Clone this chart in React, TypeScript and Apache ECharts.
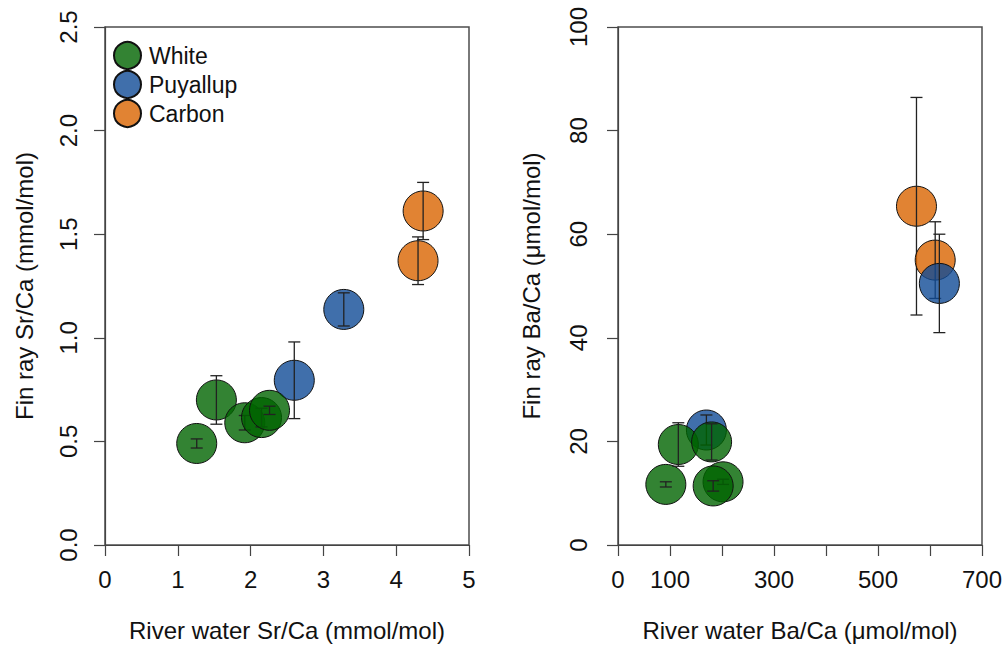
import React, { useEffect, useRef } from "react";
import * as echarts from "echarts";

// ---- Data: left panel (Sr/Ca, mmol/mol) ----
const srWhiteX = [1.26, 1.53, 1.92, 2.15, 2.26];
const srWhiteY = [0.49, 0.70, 0.59, 0.615, 0.65];
const srWhiteErr = [0.022, 0.117, 0.035, 0.045, 0.02];
const srPuyX = [2.6, 3.28];
const srPuyY = [0.795, 1.137];
const srPuyErr = [0.185, 0.08];
const srCarX = [4.3, 4.37];
const srCarY = [1.372, 1.612];
const srCarErr = [0.115, 0.138];

// ---- Data: right panel (Ba/Ca, µmol/mol) ----
const baWhiteX = [92, 116, 202, 183, 180];
const baWhiteY = [11.7, 19.4, 12.2, 11.4, 19.9];
const baWhiteErr = [0.5, 4.2, 0.5, 1.0, 3.5];
const baPuyX = [170, 618];
const baPuyY = [22.2, 50.5];
const baPuyErr = [2.9, 9.5];
const baCarX = [574, 610];
const baCarY = [65.4, 55.0];
const baCarErr = [21, 7.4];

const groups = ["White", "Puyallup", "Carbon"];
const xTicksRightShown = [0, 100, 300, 500, 700];

const COLORS: Record<string, string> = {
  White: "rgba(0,100,0,0.8)",
  Puyallup: "rgba(16,75,150,0.8)",
  Carbon: "rgba(217,100,0,0.8)",
};

const FONT = "'Liberation Sans', Arial, Helvetica, sans-serif";

function items(xs: number[], ys: number[], e: number[]) {
  return xs.map((x, i) => [x, ys[i], ys[i] - e[i], ys[i] + e[i]]);
}

const makeRender = (color: string) => (params: any, api: any) => {
  const x = api.value(0);
  const c = api.coord([x, api.value(1)]);
  const lo = api.coord([x, api.value(2)]);
  const hi = api.coord([x, api.value(3)]);
  const cap = 6;
  const style = { stroke: "#222", lineWidth: 1.3 };
  return {
    type: "group",
    children: [
      {
        type: "circle",
        shape: { cx: c[0], cy: c[1], r: 20 },
        style: { fill: color, stroke: "#111", lineWidth: 1 },
      },
      { type: "line", shape: { x1: lo[0], y1: lo[1], x2: hi[0], y2: hi[1] }, style },
      { type: "line", shape: { x1: lo[0] - cap, y1: lo[1], x2: lo[0] + cap, y2: lo[1] }, style },
      { type: "line", shape: { x1: hi[0] - cap, y1: hi[1], x2: hi[0] + cap, y2: hi[1] }, style },
    ],
  };
};

export default function App() {
  const ref = useRef<HTMLDivElement>(null);
  useEffect(() => {
    if (!ref.current) return;
    const chart = echarts.init(ref.current, undefined, { renderer: "svg" });

    const axisCommon = {
      axisLine: { show: true, lineStyle: { color: "#444", width: 1.2 } },
      axisTick: { show: true, length: 11, lineStyle: { color: "#444", width: 1.2 } },
      splitLine: { show: false },
      axisLabel: { color: "#111", fontSize: 24, fontFamily: FONT },
      nameTextStyle: { color: "#111", fontSize: 24, fontFamily: FONT },
      nameLocation: "middle" as const,
    };

    const order = ["Carbon", "Puyallup", "White"];
    const leftData: Record<string, any> = {
      White: [srWhiteX, srWhiteY, srWhiteErr],
      Puyallup: [srPuyX, srPuyY, srPuyErr],
      Carbon: [srCarX, srCarY, srCarErr],
    };
    const rightData: Record<string, any> = {
      White: [baWhiteX, baWhiteY, baWhiteErr],
      Puyallup: [baPuyX, baPuyY, baPuyErr],
      Carbon: [baCarX, baCarY, baCarErr],
    };

    const series: any[] = [];
    // legend-only series
    groups.forEach((g) => {
      series.push({
        type: "scatter",
        name: g,
        xAxisIndex: 0,
        yAxisIndex: 0,
        symbol: "circle",
        itemStyle: { color: COLORS[g], opacity: 1, borderColor: "#111", borderWidth: 1 },
        data: [],
      });
    });
    [leftData, rightData].forEach((d, gi) => {
      order.forEach((g) => {
        const [xs, ys, es] = d[g];
        series.push({
          type: "custom",
          name: g,
          xAxisIndex: gi,
          yAxisIndex: gi,
          renderItem: makeRender(COLORS[g]),
          encode: { x: 0, y: [1, 2, 3] },
          data: items(xs, ys, es),
          silent: true,
          clip: false,
        });
      });
    });

    chart.setOption({
      animation: false,
      backgroundColor: "#fff",
      textStyle: { fontFamily: FONT },
      legend: {
        data: groups,
        orient: "vertical",
        left: 108,
        top: 36,
        itemWidth: 27,
        itemHeight: 27,
        itemGap: 0,
        icon: "circle",
        textStyle: {
          fontSize: 23,
          color: "#111",
          fontFamily: FONT,
          lineHeight: 27,
          padding: [0, 0, 0, 3],
        },
      },
      grid: [
        { left: 105, top: 27, width: 364, height: 518, show: true, borderColor: "#4d4d4d", borderWidth: 1.5, backgroundColor: "transparent" },
        { left: 618, top: 27, width: 364, height: 518, show: true, borderColor: "#4d4d4d", borderWidth: 1.5, backgroundColor: "transparent" },
      ],
      xAxis: [
        {
          ...axisCommon,
          type: "value",
          gridIndex: 0,
          min: 0,
          max: 5,
          interval: 1,
          name: "River water Sr/Ca (mmol/mol)",
          nameGap: 73,
          axisLabel: { ...axisCommon.axisLabel, margin: 22 },
        },
        {
          ...axisCommon,
          type: "value",
          gridIndex: 1,
          min: 0,
          max: 700,
          interval: 100,
          name: "River water Ba/Ca (\u03bcmol/mol)",
          nameGap: 73,
          axisLabel: {
            ...axisCommon.axisLabel,
            margin: 22,
            formatter: (v: number) => (xTicksRightShown.includes(v) ? String(v) : ""),
          },
        },
      ],
      yAxis: [
        {
          ...axisCommon,
          type: "value",
          gridIndex: 0,
          min: 0,
          max: 2.5,
          interval: 0.5,
          name: "Fin ray Sr/Ca (mmol/mol)",
          nameGap: 69,
          axisLabel: { ...axisCommon.axisLabel, rotate: 90, margin: 25, formatter: (v: number) => v.toFixed(1) },
        },
        {
          ...axisCommon,
          type: "value",
          gridIndex: 1,
          min: 0,
          max: 100,
          interval: 20,
          name: "Fin ray Ba/Ca (\u03bcmol/mol)",
          nameGap: 75,
          axisLabel: { ...axisCommon.axisLabel, rotate: 90, margin: 28 },
        },
      ],
      series,
    });
    return () => chart.dispose();
  }, []);
  return (
    <div
      ref={ref}
      style={{ position: "fixed", left: 0, top: 0, width: 1006, height: 648, background: "#fff" }}
    />
  );
}
